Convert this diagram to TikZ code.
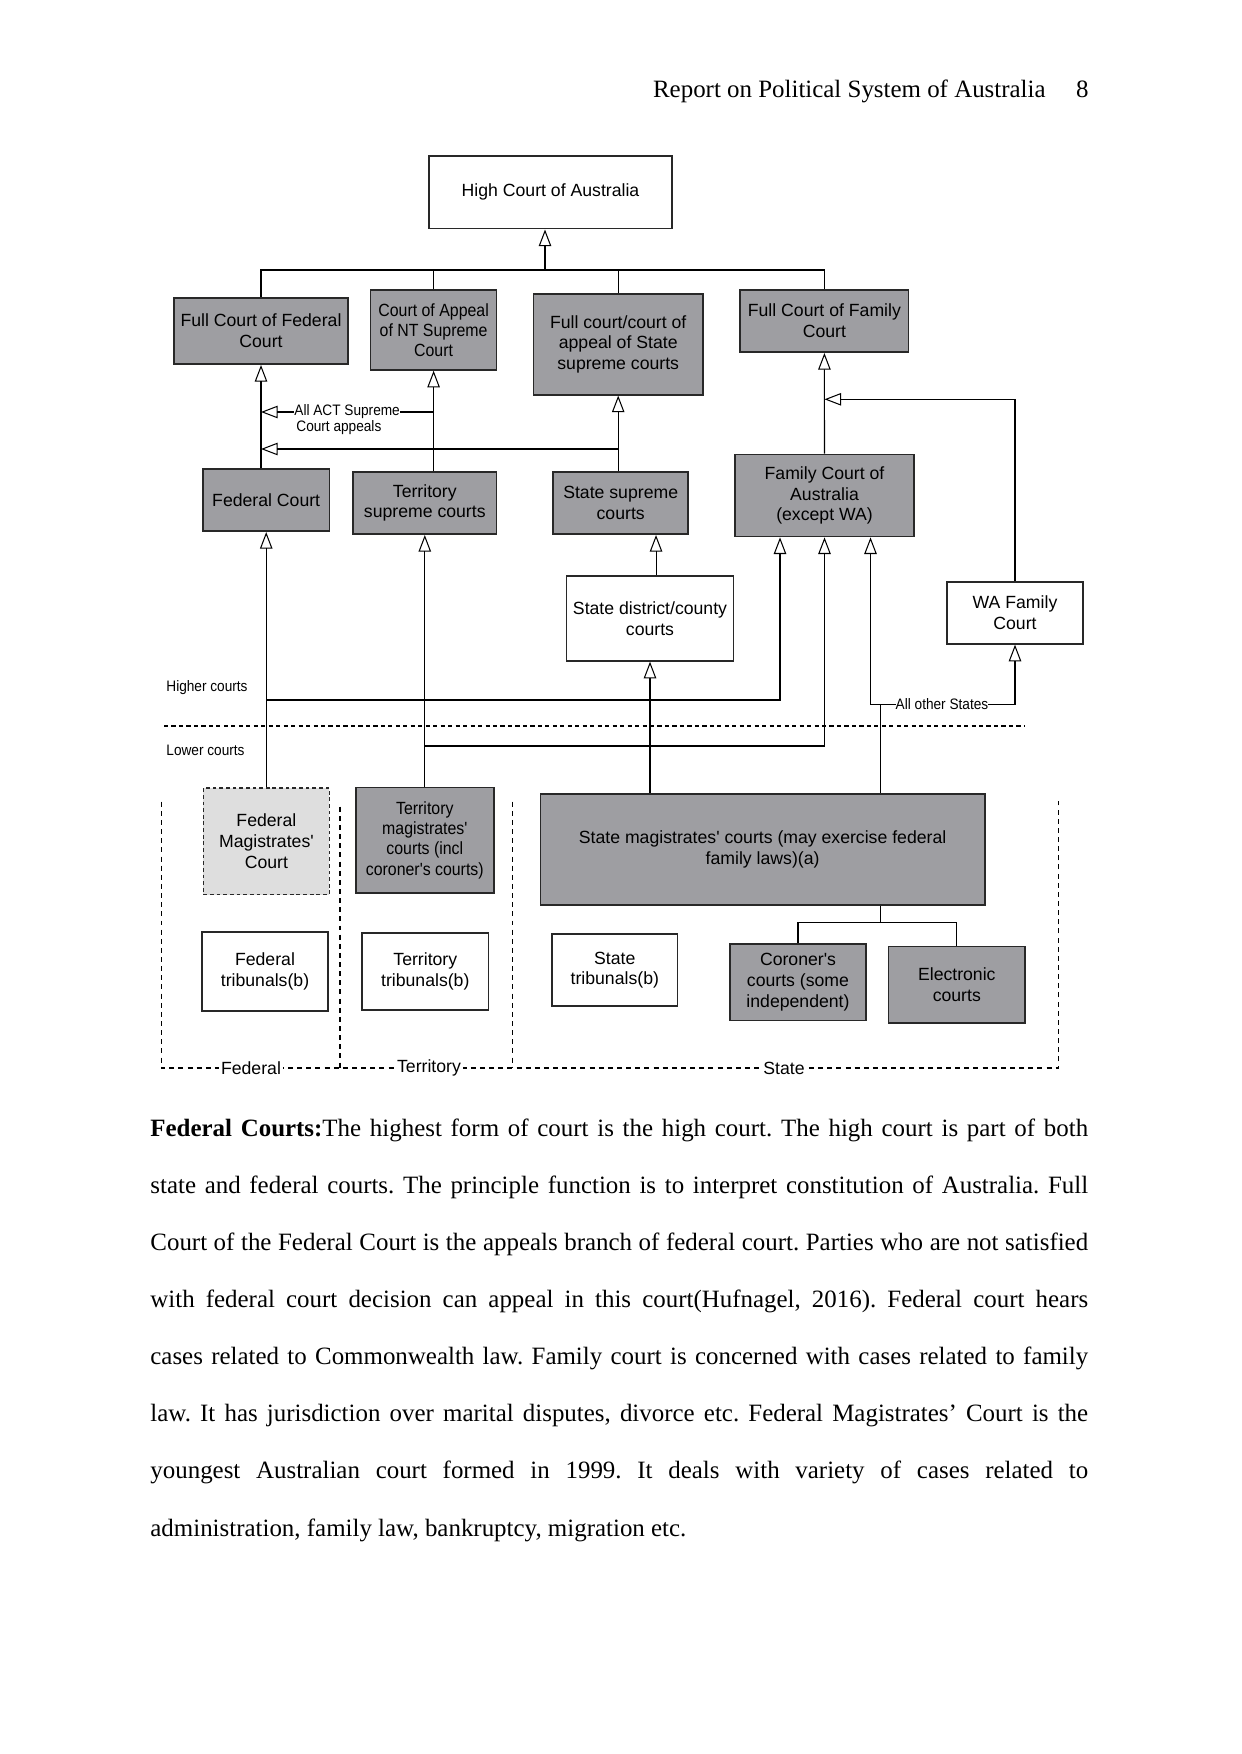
\documentclass[tikz,border=0pt]{standalone}
\usepackage{fontspec}
\setmainfont{Liberation Serif}
\newfontfamily\diagfont{Liberation Sans}
\newfontfamily\narrowfont{Liberation Sans}[FakeStretch=0.9]
\usetikzlibrary{arrows.meta,calc}
\definecolor{CourtClr}{RGB}{158,158,162}
\definecolor{MagClr}{RGB}{222,222,222}
\definecolor{EdgeClr}{RGB}{40,40,40}
\newcommand\jline[1]{\makebox[451.5pt][s]{#1}}
\frenchspacing

\tikzset{
  court/.style={draw=EdgeClr,line width=0.8pt,fill=CourtClr,align=center,inner sep=0pt,
    font=\diagfont\fontsize{8.5}{10}\selectfont},
  whitebox/.style={court,fill=white},
  tight/.style={font=\narrowfont\fontsize{8.5}{9.7}\selectfont},
  wh/.style 2 args={minimum width=#1*0.4798pt,minimum height=#2*0.4798pt},
  arr/.style={line width=0.5pt,-{Triangle[open,length=8pt,width=6pt]}},
  link/.style={line width=0.5pt},
  levelsep/.style={line width=0.5pt,dash pattern=on 2pt off 1.6pt},
  zone/.style={line width=0.5pt,dash pattern=on 2.4pt off 2pt},
  note/.style={font=\narrowfont\fontsize{7.3}{8.5}\selectfont,inner sep=0pt},
  zonelbl/.style={font=\diagfont\fontsize{8.5}{10}\selectfont,fill=white,inner sep=1pt},
  body/.style={anchor=base west,inner sep=0pt,font=\fontsize{12}{14}\selectfont},
}

\begin{document}
\begin{tikzpicture}[x=0.016922cm,y=-0.016922cm]
\useasboundingbox (0,0) rectangle (1241,1754);

% page header
\node[body,anchor=base east] (hdr) at (1046,98) {Report on Political System of Australia};
\node[body,anchor=base east] (pg) at (1089,98) {8};

% higher courts
\node[whitebox,wh={244}{73}] (hca) at (550.5,192.3) {High Court of Australia};
\node[court,wh={174}{66.6}] (fcfed) at (261,331) {Full Court of Federal\\Court};
\node[court,tight,wh={126.4}{80.3}] (ntapp) at (433.6,329.9) {Court of Appeal\\of NT Supreme\\Court};
\node[court,wh={170}{101.3}] (stapp) at (618.2,344.3) {Full court/court of\\appeal of State\\supreme courts};
\node[court,wh={168.8}{62.6}] (fcfam) at (824.4,321) {Full Court of Family\\Court};
\node[court,wh={126.7}{62.3}] (fedc) at (266.2,500.2) {Federal Court};
\node[court,wh={143.9}{62.6}] (tersup) at (424.8,503) {Territory\\supreme courts};
\node[court,wh={135.7}{62.6}] (stsup) at (620.7,503) {State supreme\\courts};
\node[court,wh={179}{82.4}] (famc) at (824.5,495.5) {Family Court of\\Australia\\(except WA)};
\node[whitebox,wh={167.6}{85}] (stdist) at (650,618.5) {State district/county\\courts};
\node[whitebox,wh={137}{62.3}] (wafam) at (1015,612.8) {WA Family\\Court};

% lower courts
\node[court,fill=MagClr,dash pattern=on 1.8pt off 1.4pt,wh={126.4}{107}] (fedmag) at (266.4,841.2) {Federal\\Magistrates'\\Court};
\node[court,tight,wh={138.3}{106}] (termag) at (424.8,840.3) {Territory\\magistrates'\\courts (incl\\coroner's courts)};
\node[court,wh={446}{111.6}] (stmag) at (762.6,849.5) {State magistrates' courts (may exercise federal\\family laws)(a)};
\node[whitebox,wh={126.4}{79.6}] (fedtrib) at (265,971.5) {Federal\\tribunals(b)};
\node[whitebox,wh={126.6}{77}] (tertrib) at (425.3,971.5) {Territory\\tribunals(b)};
\node[whitebox,wh={126.1}{72.3}] (sttrib) at (614.8,970.1) {State\\tribunals(b)};
\node[court,wh={136.8}{77}] (coron) at (798,982.2) {Coroner's\\courts (some\\independent)};
\node[court,wh={137.2}{77}] (elec) at (956.8,984.8) {Electronic\\courts};

% appeals to the High Court
\coordinate (bus) at (545,270);
\draw[arr] (bus) -- (bus |- hca.south);
\draw[link] (fcfed.north) |- (fcfam.north |- bus) -- (fcfam.north);
\draw[link] (ntapp.north) -- (ntapp.north |- bus);
\draw[link] (stapp.north) -- (stapp.north |- bus);

% federal / territory / state columns
\draw[arr] (fcfed.south |- fedc.north) -- (fcfed.south);
\draw[arr] (ntapp.south |- tersup.north) -- (ntapp.south);
\coordinate (act) at (434,412);
\draw[arr] (act) -- (act -| fcfed.south);
\node[note,fill=white,anchor=west] (actlbl) at (294,412) {All ACT Supreme};
\node[note,anchor=west] (actlbl2) at (296,428) {Court appeals};
\draw[arr] (stapp.south |- stsup.north) -- (stapp.south);
\coordinate (stx) at (618,449);
\draw[arr] (stx) -- (stx -| fcfed.south);
\draw[arr] ([xshift=2.9pt]stdist.north) -- ([xshift=2.9pt]stdist.north |- stsup.south);
\draw[arr] (famc.north) -- (fcfam.south);
\coordinate (wa) at (1015.7,399.3);
\draw[link] (wafam.north) -- (wafam.north |- wa);
\draw[arr] (wafam.north |- wa) -- (wa -| famc.north);

% from the lower courts
\draw[arr] (fedc.south |- fedmag.north) -- (fedc.south);
\draw[arr] (tersup.south |- termag.north) -- (tersup.south);
\draw[arr] (stdist.south |- stmag.north) -- (stdist.south);
\coordinate (hi) at (0,700);
\draw[arr] (fedc.south |- hi) -| ($(famc.south)+(-44.5,0)$);
\coordinate (lo) at (0,746);
\draw[arr] (tersup.south |- lo) -| (famc.south);
\coordinate (os) at (880.7,704.3);
\draw[link] (stmag.north -| os) -- (os);
\draw[arr] (os) -| ($(famc.south)+(46,0)$);
\draw[arr] (os) -| (wafam.south);
\node[note,fill=white] (oslbl) at (942,704.3) {All other States};
\coordinate (cj) at (880.7,922.3);
\draw[link] (stmag.south -| cj) -- (cj);
\draw[link] (coron.north) |- (cj) -| (elec.north);

% higher / lower split and jurisdictions
\draw[levelsep] (164,726) -- (1025,726);
\node[note,anchor=west] (hilbl) at (166,688) {Higher courts};
\node[note,anchor=west] (lolbl) at (166,750) {Lower courts};
\draw[zone] (161.4,801.7) -- (161.4,1068) -- (1058.2,1068) -- (1058.2,797.7);
\draw[zone] (340,806.7) -- (340,1068);
\draw[zone] (512.5,801.7) -- (512.5,1068);
\node[zonelbl] (fedlbl) at (251,1068) {Federal};
\node[zonelbl] (terlbl) at (429,1068) {Territory};
\node[zonelbl] (stlbl) at (784,1068) {State};

% body text
\node[body] (l1) at (150,1136) {\jline{\textbf{Federal Courts:}The highest form of court is the high court. The high court is part of both}};
\node[body] (l2) at (150,1193.1) {\jline{state and federal courts. The principle function is to interpret constitution of Australia. Full}};
\node[body] (l3) at (150,1250.3) {\jline{Court of the Federal Court is the appeals branch of federal court. Parties who are not satisfied}};
\node[body] (l4) at (150,1307.4) {\jline{with federal court decision can appeal in this court(Hufnagel, 2016). Federal court hears}};
\node[body] (l5) at (150,1364.6) {\jline{cases related to Commonwealth law. Family court is concerned with cases related to family}};
\node[body] (l6) at (150,1421.7) {\jline{law. It has jurisdiction over marital disputes, divorce etc. Federal Magistrates’ Court is the}};
\node[body] (l7) at (150,1478.9) {\jline{youngest Australian court formed in 1999. It deals with variety of cases related to}};
\node[body] (l8) at (150,1536) {administration, family law, bankruptcy, migration etc.};

\end{tikzpicture}
\end{document}
